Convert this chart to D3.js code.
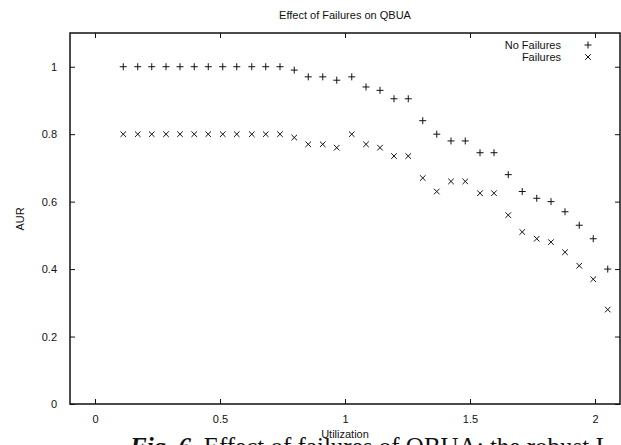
<!DOCTYPE html>
<html>
<head>
<meta charset="utf-8">
<script src="https://cdn.jsdelivr.net/npm/d3@7/dist/d3.min.js"></script>
<style>
  html, body { margin: 0; padding: 0; background: #fff; overflow: hidden; }
  svg { display: block; }
  text { font-family: "Liberation Sans", Arial, Helvetica, sans-serif; fill: #111; }
</style>
</head>
<body>
<script>
// Utilization levels of the task sets
const utilization = [0.113, 0.171, 0.227, 0.284, 0.340, 0.397, 0.453, 0.511, 0.567, 0.627,
  0.683, 0.740, 0.797, 0.853, 0.911, 0.967, 1.027, 1.084, 1.140, 1.196,
  1.253, 1.311, 1.367, 1.424, 1.481, 1.540, 1.596, 1.653, 1.709, 1.767,
  1.824, 1.880, 1.937, 1.993, 2.051];

// Accrued utility ratio without failures
const aurNoFailures = [1.00, 1.00, 1.00, 1.00, 1.00, 1.00, 1.00, 1.00, 1.00, 1.00,
  1.00, 1.00, 0.99, 0.97, 0.97, 0.96, 0.97, 0.94, 0.93, 0.905,
  0.905, 0.84, 0.80, 0.78, 0.78, 0.745, 0.745, 0.68, 0.63, 0.61,
  0.60, 0.57, 0.53, 0.49, 0.40];

// Accrued utility ratio with failures
const aurFailures = [0.80, 0.80, 0.80, 0.80, 0.80, 0.80, 0.80, 0.80, 0.80, 0.80,
  0.80, 0.80, 0.79, 0.77, 0.77, 0.76, 0.80, 0.77, 0.76, 0.735,
  0.735, 0.67, 0.63, 0.66, 0.66, 0.625, 0.625, 0.56, 0.51, 0.49,
  0.48, 0.45, 0.41, 0.37, 0.28];

const xTicks = [0, 0.5, 1, 1.5, 2];
const yTicks = [0, 0.2, 0.4, 0.6, 0.8, 1];
const seriesNames = ["No Failures", "Failures"];

const W = 621, H = 445;
const svg = d3.select("body").append("svg").attr("width", W).attr("height", H);

const x = d3.scaleLinear().domain([-0.1, 2.1]).range([70, 620]);
const y = d3.scaleLinear().domain([0, 1.1]).range([404, 33]);
const fmt = d => d3.format("")(d);

const ink = "#111";

// tick marks on all four sides, pointing inward
const axisG = svg.append("g");
axisG.append("g").attr("transform", `translate(0,${y(0)})`)
  .call(d3.axisBottom(x).tickValues(xTicks).tickSizeInner(-5).tickSizeOuter(0).tickPadding(11).tickFormat(fmt));
axisG.append("g").attr("transform", `translate(0,${y(1.1)})`)
  .call(d3.axisTop(x).tickValues(xTicks).tickSizeInner(-5).tickSizeOuter(0).tickFormat(""));
axisG.append("g").attr("transform", `translate(${x(-0.1)},0)`)
  .call(d3.axisLeft(y).tickValues(yTicks).tickSizeInner(-5).tickSizeOuter(0).tickPadding(13).tickFormat(fmt));
axisG.append("g").attr("transform", `translate(${x(2.1)},0)`)
  .call(d3.axisRight(y).tickValues(yTicks).tickSizeInner(-5).tickSizeOuter(0).tickFormat(""));

axisG.selectAll(".domain").remove();
axisG.selectAll(".tick line").attr("stroke", ink).attr("stroke-width", 1);
axisG.selectAll(".tick text").attr("font-size", 11).attr("fill", ink)
  .style("font-family", '"Liberation Sans", Arial, sans-serif');

// plot border
svg.append("rect")
  .attr("x", x(-0.1)).attr("y", y(1.1))
  .attr("width", x(2.1) - x(-0.1)).attr("height", y(0) - y(1.1))
  .attr("fill", "none").attr("stroke", ink).attr("stroke-width", 1.5);

// point symbols
const plusPath = (cx, cy, r) => `M${cx - r},${cy}H${cx + r}M${cx},${cy - r}V${cy + r}`;
const crossPath = (cx, cy, r) => `M${cx - r},${cy - r}L${cx + r},${cy + r}M${cx - r},${cy + r}L${cx + r},${cy - r}`;

const noFail = utilization.map((u, i) => ({ u, v: aurNoFailures[i] }));
const fail = utilization.map((u, i) => ({ u, v: aurFailures[i] }));

svg.append("g").selectAll("path").data(noFail).join("path")
  .attr("d", d => plusPath(x(d.u), y(d.v), 3.5))
  .attr("stroke", ink).attr("stroke-width", 1).attr("fill", "none");

svg.append("g").selectAll("path").data(fail).join("path")
  .attr("d", d => crossPath(x(d.u), y(d.v), 2.8))
  .attr("stroke", ink).attr("stroke-width", 1).attr("fill", "none");

// legend
const legend = svg.append("g");
seriesNames.forEach((name, i) => {
  const ly = 45 + i * 12;
  legend.append("text").attr("x", 561).attr("y", ly + 4)
    .attr("text-anchor", "end").attr("font-size", 11).text(name);
  legend.append("path")
    .attr("d", i === 0 ? plusPath(588, ly, 3.5) : crossPath(588, ly, 2.8))
    .attr("stroke", ink).attr("stroke-width", 1).attr("fill", "none");
});

// title and axis labels
svg.append("text").attr("x", 345).attr("y", 19).attr("text-anchor", "middle")
  .attr("font-size", 11).text("Effect of Failures on QBUA");
svg.append("text").attr("transform", "translate(24,219) rotate(-90)")
  .attr("text-anchor", "middle").attr("font-size", 11).text("AUR");

// figure caption underneath, running past the bottom edge of the page
const cap = svg.append("text").attr("x", 130).attr("y", 455)
  .attr("font-size", 25).style("font-family", '"Liberation Serif", "Times New Roman", serif');
cap.append("tspan").attr("font-weight", "bold").attr("font-style", "italic").text("Fig. 6.");
cap.append("tspan").text(" Effect of failures of QBUA: the robust I");

svg.append("text").attr("x", 345).attr("y", 438).attr("text-anchor", "middle")
  .attr("font-size", 11).text("Utilization");
</script>
</body>
</html>
